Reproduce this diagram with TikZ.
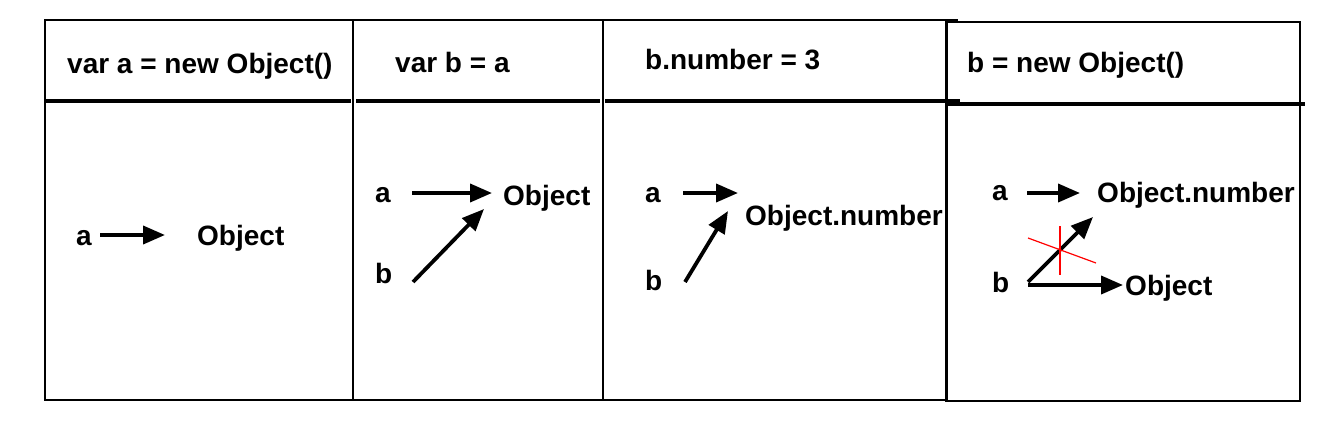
\documentclass[tikz,border=0pt]{standalone}
\usepackage{fontspec}
\setmainfont{Liberation Sans}
\usetikzlibrary{arrows.meta}
\begin{document}
\begin{tikzpicture}[x=1pt,y=-1pt,
  lbl/.style={anchor=base west, inner sep=0pt, font=\fontsize{28}{32}\selectfont\bfseries},
  frame/.style={line width=2.4pt, line cap=rect},
  hdr/.style={line width=4pt},
  ptr/.style={line width=3.8pt, -{Triangle[length=22pt,width=18pt]}},
  cross/.style={red, line width=1.2pt}]
\useasboundingbox (0,0) rectangle (1332,420);
% frames
\draw[frame] (45,20) -- (957,20);
\draw[frame] (946,22) -- (1300,22);
\draw[frame] (45,20) -- (45,400);
\draw[frame] (353,20) -- (353,400);
\draw[frame] (603,20) -- (603,400);
\draw[frame] (947,20) -- (947,400);
\draw[frame] (946,22) -- (946,401);
\draw[frame] (1300,22) -- (1300,401);
\draw[frame] (45,400) -- (947,400);
\draw[frame] (946,401) -- (1300,401);
% header rules
\draw[hdr] (45,101) -- (351,101);
\draw[hdr] (356,101) -- (600,101);
\draw[hdr] (605,101) -- (960,101);
\draw[hdr] (947,104) -- (1305,104);
% headers
\node[lbl] (h1) at (67,74) {var a = new Object()};
\node[lbl] (h2) at (395,73) {var b = a};
\node[lbl] (h3) at (645,70) {b.number = 3};
\node[lbl] (h4) at (967,73) {b = new Object()};
% panel 1
\node[lbl] (p1a) at (76,245) {a};
\node[lbl] (p1o) at (197,245) {Object};
\coordinate (p1s) at (100,235);
\coordinate (p1e) at (165,235);
\draw[ptr] (p1s) -- (p1e);
% panel 2
\node[lbl] (p2a) at (375,202) {a};
\node[lbl] (p2o) at (503,205) {Object};
\node[lbl] (p2b) at (375,283) {b};
\coordinate (p2as) at (412,193);
\coordinate (p2ae) at (492,193);
\coordinate (p2bs) at (413,282);
\coordinate (p2be) at (484,209);
\draw[ptr] (p2as) -- (p2ae);
\draw[ptr] (p2bs) -- (p2be);
% panel 3
\node[lbl] (p3a) at (645,202) {a};
\node[lbl] (p3o) at (745,225) {Object.number};
\node[lbl] (p3b) at (645,290) {b};
\coordinate (p3as) at (683,193);
\coordinate (p3ae) at (738,193);
\coordinate (p3bs) at (685,282);
\coordinate (p3be) at (728,211);
\draw[ptr] (p3as) -- (p3ae);
\draw[ptr] (p3bs) -- (p3be);
% panel 4
\node[lbl] (p4a) at (992,200) {a};
\node[lbl] (p4o) at (1097,202) {Object.number};
\node[lbl] (p4b) at (992,292) {b};
\node[lbl] (p4n) at (1125,295) {Object};
\coordinate (p4as) at (1027,193);
\coordinate (p4ae) at (1080,193);
\coordinate (p4bs) at (1028,282);
\coordinate (p4be) at (1093,217);
\coordinate (p4hs) at (1028,285);
\coordinate (p4he) at (1123,285);
\draw[ptr] (p4as) -- (p4ae);
\draw[ptr] (p4bs) -- (p4be);
\draw[ptr] (p4hs) -- (p4he);
\draw[cross] (1060,226) -- (1060,275);
\draw[cross] (1028,238) -- (1096,263);
\end{tikzpicture}
\end{document}
